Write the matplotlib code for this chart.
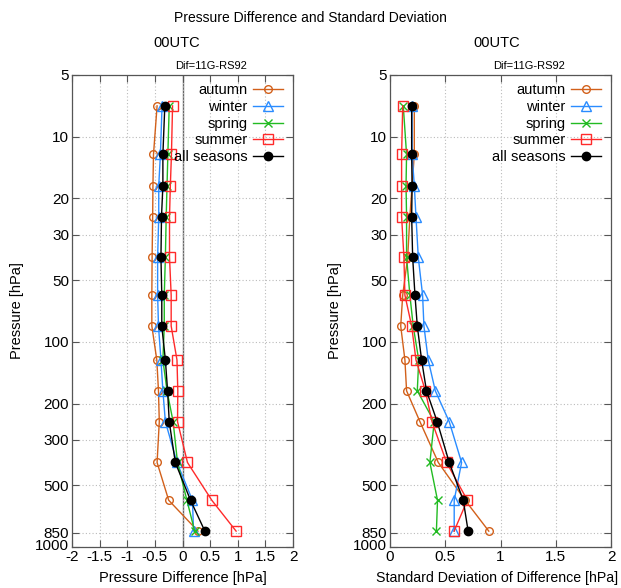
import matplotlib
matplotlib.use("Agg")
import matplotlib.pyplot as plt
from matplotlib.ticker import FixedLocator, NullLocator
from matplotlib.transforms import ScaledTranslation

plt.rcParams['font.family'] = ['Liberation Sans', 'DejaVu Sans']

# ---------------- data ----------------
levels = [7.07, 12.2, 17.3, 24.5, 38.7, 59.2, 83.7, 122.5, 173.2, 244.9, 387.3, 591.6, 836.7]
seasons = ["autumn", "winter", "spring", "summer", "all seasons"]

dif_autumn = [-0.46, -0.525, -0.535, -0.54, -0.55, -0.555, -0.555, -0.465, -0.435, -0.42, -0.46, -0.25, 0.28]
dif_winter = [-0.37, -0.40, -0.43, -0.43, -0.45, -0.45, -0.435, -0.39, -0.355, -0.31, -0.10, 0.18, 0.20]
dif_spring = [-0.24, -0.265, -0.28, -0.295, -0.31, -0.33, -0.33, -0.355, -0.28, -0.17, -0.09, 0.08, 0.22]
dif_summer = [-0.18, -0.20, -0.22, -0.235, -0.235, -0.205, -0.205, -0.10, -0.085, -0.09, 0.09, 0.53, 0.97]
dif_all = [-0.32, -0.355, -0.355, -0.38, -0.39, -0.375, -0.375, -0.31, -0.27, -0.24, -0.13, 0.145, 0.405]

std_autumn = [0.22, 0.22, 0.20, 0.18, 0.16, 0.115, 0.097, 0.135, 0.15, 0.271, 0.437, 0.68, 0.894]
std_winter = [0.20, 0.20, 0.22, 0.235, 0.256, 0.295, 0.307, 0.346, 0.41, 0.536, 0.648, 0.581, 0.581]
std_spring = [0.12, 0.15, 0.145, 0.15, 0.15, 0.18, 0.21, 0.26, 0.247, 0.40, 0.361, 0.43, 0.42]
std_summer = [0.115, 0.105, 0.105, 0.105, 0.126, 0.135, 0.196, 0.235, 0.32, 0.38, 0.512, 0.70, 0.58]
std_all = [0.196, 0.196, 0.20, 0.196, 0.205, 0.226, 0.247, 0.286, 0.33, 0.427, 0.536, 0.663, 0.707]

ytick_vals = [5, 10, 20, 30, 50, 100, 200, 300, 500, 850, 1000]
ytick_labels = ["5", "10", "20", "30", "50", "100", "200", "300", "500", "850", "1000"]
xticks_dif = [-2, -1.5, -1, -0.5, 0, 0.5, 1, 1.5, 2]
xlabels_dif = ["-2", "-1.5", "-1", "-0.5", "0", "0.5", "1", "1.5", "2"]
xticks_std = [0, 0.5, 1, 1.5, 2]
xlabels_std = ["0", "0.5", "1", "1.5", "2"]

# ---------------- styles ----------------
styles = [
    dict(color="#d2601a", marker="o", mfc="none", ms=5.5, mew=1.0),
    dict(color="#2a8cff", marker="^", mfc="none", ms=7, mew=1.0),
    dict(color="#22bb22", marker="x", ms=6, mew=1.0),
    dict(color="#ff2a2a", marker="s", mfc="none", ms=7, mew=1.0),
    dict(color="black", marker="o", mfc="black", ms=6, mew=1.0),
]

W, H = 621, 588
TOP, BOT = 75, 547
AXW = 221
fig = plt.figure(figsize=(W / 100, H / 100), dpi=100)

def make_ax(left_px, right_px):
    return fig.add_axes([left_px / W, (H - BOT) / H,
                         (right_px - left_px) / W, (BOT - TOP) / H])

ax1 = make_ax(72, 72 + AXW)
ax2 = make_ax(390, 390 + AXW)

def setup(ax, xt, xl, xlim, xlabel, xlabel_size, xlabel_dx):
    ax.set_yscale("log")
    ax.set_ylim(1000, 5)
    ax.set_xlim(*xlim)
    ax.yaxis.set_major_locator(FixedLocator(ytick_vals))
    ax.set_yticklabels(ytick_labels)
    ax.yaxis.set_minor_locator(NullLocator())
    ax.set_xticks(xt)
    ax.set_xticklabels(xl)
    ax.tick_params(direction="in", length=5, width=0.8, top=True, right=True,
                   labelsize=11, color="#555555", pad=2)
    ax.grid(True, color="#bbbbbb", linestyle=(0, (1, 2)), linewidth=0.8)
    for s in ax.spines.values():
        s.set_color("#555555")
        s.set_linewidth(0.9)
    # lift the bottom "1000" label a little, as in the reference
    lab = ax.get_yticklabels()[-1]
    lab.set_transform(lab.get_transform() + ScaledTranslation(0, 3 / 100, fig.dpi_scale_trans))
    ax.set_ylabel("Pressure [hPa]", fontsize=10.5, va="center")
    ax.yaxis.set_label_coords(-55 / AXW, 0.5)
    ax.set_xlabel(xlabel, fontsize=xlabel_size, va="center")
    ax.xaxis.set_label_coords(0.5 + xlabel_dx / AXW, -31 / (BOT - TOP))
    ax.set_title("Dif=11G-RS92", fontsize=8, pad=4, x=0.63)

setup(ax1, xticks_dif, xlabels_dif, (-2, 2), "Pressure Difference [hPa]", 10.5, 0)
setup(ax2, xticks_std, xlabels_std, (0, 2), "Standard Deviation of Difference [hPa]", 10.2, -3)

ax1.axvline(0, color="#666666", linewidth=1.0, zorder=1)

dif_series = [dif_autumn, dif_winter, dif_spring, dif_summer, dif_all]
std_series = [std_autumn, std_winter, std_spring, std_summer, std_all]

for ax, series in ((ax1, dif_series), (ax2, std_series)):
    for name, vals, st in zip(seasons, series, styles):
        ax.plot(vals, levels, label=name, linewidth=1.0, zorder=3, **st)
    ax.legend(loc="upper right", bbox_to_anchor=(1 - 10 / AXW, 1 - 8.5 / (BOT - TOP)),
              frameon=False, markerfirst=False, fontsize=10.5, handlelength=2.05,
              handletextpad=0.4, labelspacing=0.18, borderpad=0.0,
              borderaxespad=0.0)

fig.text(310 / W, 1 - 18 / H, "Pressure Difference and Standard Deviation",
         ha="center", va="center", fontsize=10)
fig.text(177 / W, 1 - 43 / H, "00UTC", ha="center", va="center", fontsize=10.5)
fig.text(497 / W, 1 - 43 / H, "00UTC", ha="center", va="center", fontsize=10.5)

fig.savefig("out.png", dpi=100)
